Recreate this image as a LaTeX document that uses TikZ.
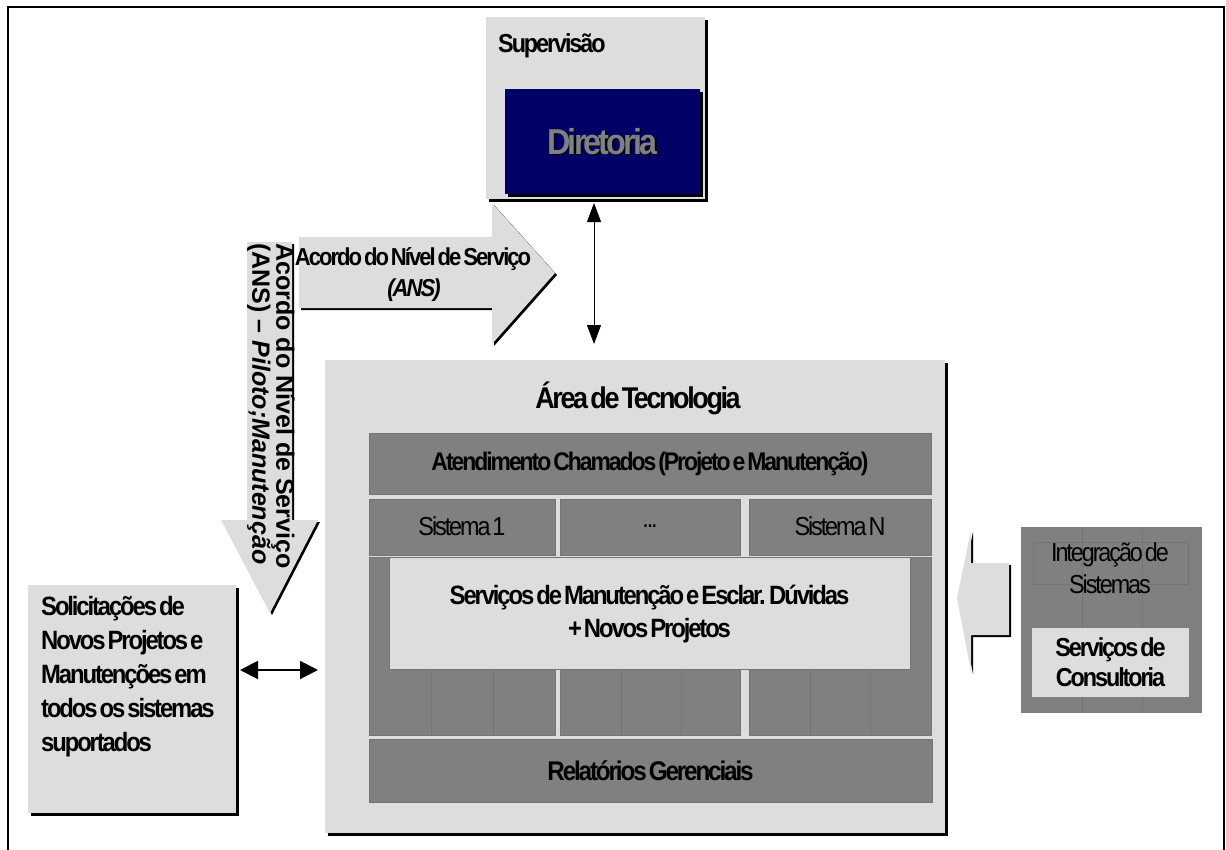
\documentclass[tikz,border=0pt]{standalone}
\usepackage{fontspec}
\setmainfont{Liberation Sans}[FakeStretch=0.9, LetterSpace=-8, WordSpace=0.45]
\newfontfamily\widesans{Liberation Sans}
\usetikzlibrary{arrows.meta,shadows}
\definecolor{lightfill}{HTML}{DDDDDD}
\definecolor{darkfill}{HTML}{808080}
\definecolor{darkedge}{HTML}{747474}
\definecolor{navyfill}{HTML}{000066}
\newcommand\txtsize[2]{\fontsize{#1}{#2}\selectfont}
\begin{document}
\begin{tikzpicture}[x=1pt,y=-1pt,
  blk/.style={inner sep=0pt, outer sep=0pt, anchor=north west},
  dropsh/.style={drop shadow={shadow xshift=3pt, shadow yshift=-3pt, opacity=1, fill=black}},
  dropsm/.style={drop shadow={shadow xshift=2pt, shadow yshift=-2pt, opacity=1, fill=black}},
  lightbox/.style={blk, fill=lightfill},
  darkbox/.style={blk, fill=darkfill, draw=darkedge, line width=0.8pt},
  innerbox/.style={blk, fill=lightfill, draw=darkedge, line width=0.8pt},
  subline/.style={draw=darkedge, line width=0.8pt},
  lbl/.style={inner sep=0pt, align=center},
  dblarrow/.style={{Triangle[length=19pt,width=14pt]}-{Triangle[length=19pt,width=14pt]}, line width=1pt},
  dblarrowh/.style={{Triangle[length=18pt,width=18pt]}-{Triangle[length=18pt,width=18pt]}, line width=2pt}]
\useasboundingbox (0,0) rectangle (1226,849);

% outer frame
\draw[line width=2pt] (8,7) rectangle (1224,856);

% Supervisão with Diretoria
\node[lightbox, dropsh, minimum width=219pt, minimum height=182pt] (sup) at (486,17) {};
\node[lbl, anchor=west, font=\bfseries\txtsize{26}{30}] (supT) at (498,46) {Supervisão};
\node[blk, fill=navyfill, dropsh, minimum width=195pt, minimum height=105pt] (dir) at (505,89) {};
\node[lbl, font=\bfseries\txtsize{36}{40}, text=black] (dirS) at ([shift={(1.5pt,-1.5pt)}]dir.center) {Diretoria};
\node[lbl, font=\bfseries\txtsize{36}{40}, text=darkfill] (dirT) at (dir.center) {Diretoria};

% service level block arrows
\fill[lightfill, dropsm] (299,237) -- (492,237) -- (492,203) -- (555,273)
  -- (492,344) -- (492,308) -- (299,308) -- cycle;
\node[lbl, font=\bfseries\txtsize{24.5}{31}] (ansH) at (413,275)
  {Acordo do Nível de Serviço\\\textit{(ANS)}};

\fill[lightfill, dropsm] (247,242) -- (292,242) -- (292,520) -- (318,520)
  -- (270,613) -- (221,520) -- (247,520) -- cycle;
\node[lbl, align=left, rotate=-90, font=\widesans\bfseries\txtsize{25}{24}] (ansV) at (271,406)
  {Acordo do Nível de Serviço\\(ANS) – \textit{Piloto;Manutenção}};

% Área de Tecnologia
\node[lightbox, dropsh, minimum width=620pt, minimum height=473pt] (area) at (325,360) {};
\node[lbl, font=\bfseries\txtsize{30}{34}] (areaT) at (638,398) {Área de Tecnologia};

\node[darkbox, minimum width=562pt, minimum height=61pt] (atend) at (369,433) {};
\node[lbl, font=\bfseries\txtsize{25.5}{30}] (atendT) at (atend.center) {Atendimento Chamados (Projeto e Manutenção)};

% system columns
\node[darkbox, minimum width=186pt, minimum height=56pt] (sys1) at (369,499) {};
\node[darkbox, minimum width=180pt, minimum height=56pt] (sys2) at (560,499) {};
\node[darkbox, minimum width=182pt, minimum height=56pt] (sys3) at (749,499) {};
\node[lbl, font=\txtsize{26}{30}] (sys1T) at ([yshift=1pt]sys1.center) {Sistema 1};
\node[lbl, font=\txtsize{26}{30}] (sys2T) at ([yshift=1pt]sys2.center) {...};
\node[lbl, font=\txtsize{26}{30}] (sys3T) at ([yshift=1pt]sys3.center) {Sistema N};

\node[darkbox, minimum width=186pt, minimum height=178pt] (col1) at (369,557) {};
\node[darkbox, minimum width=180pt, minimum height=178pt] (col2) at (560,557) {};
\node[darkbox, minimum width=182pt, minimum height=178pt] (col3) at (749,557) {};
\foreach \xx in {431,493,621,681,810,870}
  \path[subline] (\xx,557) -- (\xx,735);

\node[innerbox, minimum width=521pt, minimum height=112pt] (serv) at (389,557) {};
\node[lbl, font=\bfseries\txtsize{26.5}{33}] (servT) at ([yshift=-1pt]serv.center)
  {Serviços de Manutenção e Esclar. Dúvidas\\+ Novos Projetos};

\node[darkbox, minimum width=563pt, minimum height=63pt] (rel) at (369,739) {};
\node[lbl, font=\bfseries\txtsize{27}{30}] (relT) at (rel.center) {Relatórios Gerenciais};

% requests box
\node[lightbox, dropsh, minimum width=208pt, minimum height=228pt] (sol) at (28,585) {};
\node[lbl, align=left, anchor=north west, font=\bfseries\txtsize{26.5}{34}] (solT) at (41,596)
  {Solicitações de\\Novos Projetos e\\Manutenções em\\todos os sistemas\\suportados};

% systems integration
\fill[lightfill, dropsm] (1009,563) -- (1009,635) -- (971,635) -- (971,672)
  -- (957,598) -- (971,530) -- (971,563) -- cycle;
\node[darkbox, draw=none, minimum width=181pt, minimum height=186pt] (integ) at (1021,527) {};
\foreach \xx in {1082,1142}
  \path[subline] (\xx,527) -- (\xx,713);
\path[subline] (1033,542) rectangle (1188,584);
\node[lbl, font=\txtsize{26}{32}, text=black] (integT) at (1110,568) {Integração de\\Sistemas};
\node[blk, fill=lightfill, minimum width=157pt, minimum height=69pt] (cons) at (1032,628) {};
\node[lbl, font=\bfseries\txtsize{26}{30}] (consT) at (cons.center) {Serviços de\\Consultoria};

% connectors
\coordinate (ax) at (594,0);
\coordinate (ay) at (0,670);
\draw[dblarrow, shorten <=4pt, shorten >=16pt] (sup.south -| ax) -- (area.north -| ax);
\draw[dblarrowh, shorten <=4pt, shorten >=7pt] (sol.east |- ay) -- (area.west |- ay);
\end{tikzpicture}
\end{document}
